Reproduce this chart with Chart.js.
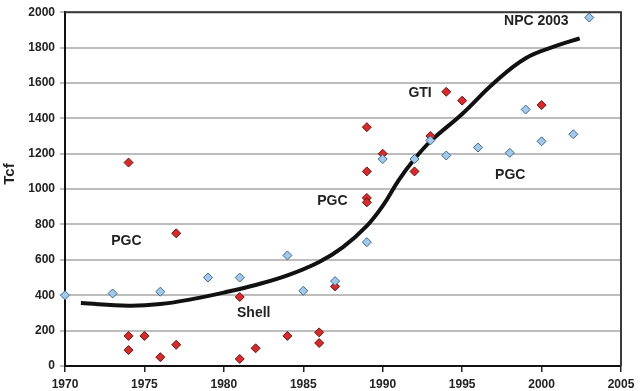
<!DOCTYPE html>
<html>
<head>
<meta charset="utf-8">
<script src="https://cdn.jsdelivr.net/npm/chart.js@4.4.1/dist/chart.umd.min.js"></script>
<style>
  html, body { margin: 0; padding: 0; background: #fff; }
  #wrap { width: 640px; height: 391px; }
</style>
</head>
<body>
<div id="wrap"><canvas id="tcfChart" width="640" height="391"></canvas></div>
<script>
// Resource estimates (blue diamonds)
const blueYears = [1970, 1973, 1976, 1979, 1981, 1984, 1985, 1987, 1989, 1990, 1992, 1993, 1994, 1996, 1998, 1999, 2000, 2002, 2003];
const blueTcf = [400, 410, 420, 500, 500, 625, 425, 480, 700, 1170, 1170, 1275, 1190, 1235, 1205, 1450, 1270, 1310, 1970];

// Resource estimates (red diamonds)
const redYears = [1974, 1974, 1974, 1975, 1976, 1977, 1977, 1981, 1981, 1982, 1984, 1986, 1986, 1987, 1989, 1989, 1989, 1989, 1990, 1992, 1993, 1994, 1995, 2000];
const redTcf = [1150, 170, 90, 170, 50, 750, 120, 390, 40, 100, 170, 190, 130, 450, 950, 925, 1350, 1100, 1200, 1100, 1300, 1550, 1500, 1475];

// Trend curve
const trendYears = [1971, 1974, 1976, 1978, 1980, 1982, 1984, 1986, 1987.5, 1989, 1990, 1991, 1992, 1993, 1995, 1997, 1999, 2001, 2002.4];
const trendTcf = [356, 341, 350, 378, 415, 458, 512, 588, 672, 792, 905, 1050, 1170, 1270, 1425, 1600, 1740, 1812, 1852];

// Text labels inside the plot (year, Tcf)
const noteTexts = ['NPC 2003', 'GTI', 'PGC', 'PGC', 'PGC', 'Shell'];
const noteYears = [1999.67, 1992.35, 1998.03, 1986.83, 1973.86, 1981.88];
const noteTcf = [1948, 1544, 1079, 932, 706, 296];

const toPoints = (xs, ys) => xs.map((x, i) => ({ x: x, y: ys[i] }));

// Draw the frame, the in-plot notes and the y title
const extrasPlugin = {
    id: 'extras',
    afterDatasetsDraw(chart) {
        const ctx = chart.ctx;
        const area = chart.chartArea;
        const xs = chart.scales.x;
        const ys = chart.scales.y;
        ctx.save();
        // top and right frame
        ctx.strokeStyle = '#3a3a3a';
        ctx.lineWidth = 2;
        ctx.beginPath();
        ctx.moveTo(area.left, area.top);
        ctx.lineTo(area.right, area.top);
        ctx.lineTo(area.right, area.bottom);
        ctx.stroke();

        ctx.fillStyle = '#222';
        ctx.font = 'bold 14px "Liberation Sans", Arial, sans-serif';
        ctx.textAlign = 'center';
        ctx.textBaseline = 'middle';
        noteTexts.forEach((t, i) => {
            ctx.fillText(t, xs.getPixelForValue(noteYears[i]), ys.getPixelForValue(noteTcf[i]));
        });

        ctx.translate(10, 174);
        ctx.rotate(-Math.PI / 2);
        ctx.font = 'bold 15px "Liberation Sans", Arial, sans-serif';
        ctx.fillText('Tcf', 0, 0);
        ctx.restore();
    }
};

const tickFont = { family: '"Liberation Sans", Arial, sans-serif', size: 12, weight: 'bold' };

new Chart(document.getElementById('tcfChart'), {
    type: 'scatter',
    data: {
        datasets: [
            {
                label: 'red',
                data: toPoints(redYears, redTcf),
                pointStyle: 'rectRot',
                pointRadius: 4.5,
                backgroundColor: '#d42b2b',
                borderColor: '#6e1414',
                borderWidth: 1,
                clip: false,
                order: 1
            },
            {
                label: 'blue',
                data: toPoints(blueYears, blueTcf),
                pointStyle: 'rectRot',
                pointRadius: 4.5,
                backgroundColor: '#a3c8e8',
                borderColor: '#3b6a90',
                borderWidth: 1,
                clip: false,
                order: 0
            },
            {
                label: 'trend',
                type: 'line',
                data: toPoints(trendYears, trendTcf),
                showLine: true,
                tension: 0.4,
                borderColor: '#111',
                borderWidth: 4,
                pointRadius: 0,
                fill: false,
                order: 2
            }
        ]
    },
    options: {
        responsive: false,
        animation: false,
        layout: { padding: { left: 0, right: 19, top: 6, bottom: 0 } },
        plugins: {
            legend: { display: false },
            tooltip: { enabled: false }
        },
        scales: {
            x: {
                type: 'linear',
                min: 1970,
                max: 2005,
                ticks: {
                    stepSize: 5,
                    color: '#222',
                    font: tickFont,
                    padding: 5,
                    callback: v => String(v)
                },
                grid: {
                    drawOnChartArea: false,
                    drawTicks: true,
                    tickLength: 6,
                    color: '#222',
                    lineWidth: 1.5
                },
                border: { color: '#111', width: 2 },
                afterFit: s => { s.height = 25; }
            },
            y: {
                min: 0,
                max: 2000,
                ticks: {
                    stepSize: 200,
                    color: '#222',
                    font: tickFont,
                    padding: 5,
                    callback: v => String(v)
                },
                grid: {
                    color: '#bdbdbd',
                    lineWidth: 2,
                    tickLength: 5
                },
                border: { color: '#111', width: 2 },
                afterFit: s => { s.width = 65; }
            }
        }
    },
    plugins: [extrasPlugin]
});
</script>
</body>
</html>
